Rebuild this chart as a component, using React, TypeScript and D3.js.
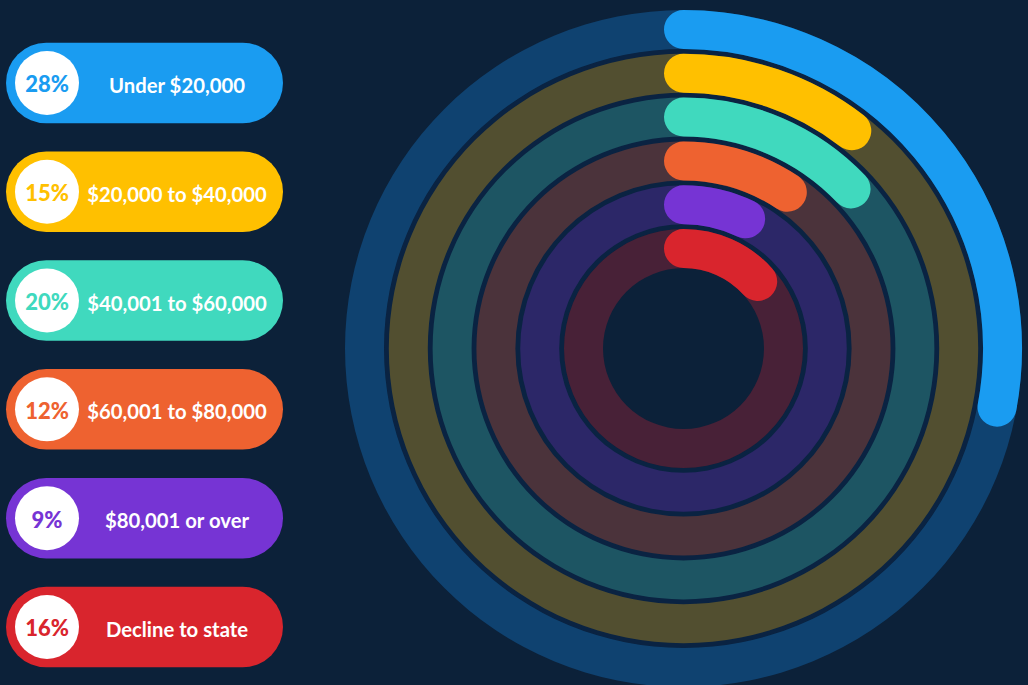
import React from "react";
import * as d3 from "d3";

// ---- data (outermost ring first) ----
const categories = [
  "Under $20,000",
  "$20,000 to $40,000",
  "$40,001 to $60,000",
  "$60,001 to $80,000",
  "$80,001 or over",
  "Decline to state",
];
const percentLabels = [28, 15, 20, 12, 9, 16];
// sweep of each drawn arc, in degrees, as it appears in the graphic
const arcSweepDeg = [100.6, 37.7, 46.4, 33.6, 25.6, 47.9];
const barColors = ["#1a9cf1", "#ffc000", "#40d9be", "#ee6230", "#7634d4", "#d9252d"];
const trackColors = ["#0f4270", "#524f30", "#1d5563", "#4b333b", "#2c2768", "#482137"];

const W = 1028;
const H = 685;
const BG = "#0c2139";
const SEP = "#0a2342";

export default function App() {
  const cx = 683.5;
  const cy = 348.5;
  const hole = 80.5;
  const step = 43.8;
  const band = 39;
  const n = categories.length;

  // ring index (0 = outermost) -> inner radius
  const rScale = d3.scaleLinear().domain([n - 1, 0]).range([hole, hole + step * (n - 1)]);
  const angle = d3.scaleLinear().domain([0, 360]).range([0, 2 * Math.PI]);
  const ringArc = d3.arc<any>();

  const sepPath = ringArc({
    innerRadius: rScale(n - 1) + band,
    outerRadius: rScale(0),
    startAngle: 0,
    endAngle: 2 * Math.PI,
  }) as string;

  const barPath = (i: number) => {
    const r = rScale(i) + band / 2;
    const p = d3.path();
    p.arc(0, 0, r, -Math.PI / 2, angle(arcSweepDeg[i]) - Math.PI / 2);
    return p.toString();
  };

  // legend
  const legendY = d3.scaleLinear().domain([0, n - 1]).range([42.7, 42.7 + 108.8 * 5]);
  const pillH = 80.5;
  const pillX = 6;
  const pillW = 277;

  return (
    <svg
      width={W}
      height={H}
      style={{ position: "absolute", left: 0, top: 0, display: "block" }}
      fontFamily="Lato, 'Open Sans', sans-serif"
    >
      <rect x={0} y={0} width={W} height={H} fill={BG} />
      <g transform={`translate(${cx},${cy})`}>
        <path d={sepPath} fill={SEP} />
        {categories.map((c, i) => (
          <path
            key={"t" + c}
            d={
              ringArc({
                innerRadius: rScale(i),
                outerRadius: rScale(i) + band,
                startAngle: 0,
                endAngle: 2 * Math.PI,
              }) as string
            }
            fill={trackColors[i]}
          />
        ))}
        {categories.map((c, i) => (
          <path
            key={"b" + c}
            d={barPath(i)}
            fill="none"
            stroke={barColors[i]}
            strokeWidth={band}
            strokeLinecap="round"
          />
        ))}
      </g>
      {categories.map((c, i) => {
        const y = legendY(i);
        const cyP = y + pillH / 2;
        return (
          <g key={"l" + c}>
            <rect x={pillX} y={y} width={pillW} height={pillH} rx={pillH / 2} fill={barColors[i]} />
            <circle cx={47} cy={cyP} r={32} fill="#ffffff" />
            <text
              x={47}
              y={cyP + 1}
              textAnchor="middle"
              dominantBaseline="central"
              fontSize={22}
              fontWeight={900}
              fill={barColors[i]}
            >
              {percentLabels[i]}%
            </text>
            <text
              x={177}
              y={cyP + 2}
              textAnchor="middle"
              dominantBaseline="central"
              fontSize={20.3}
              fontWeight={700}
              fill="#ffffff"
            >
              {c}
            </text>
          </g>
        );
      })}
    </svg>
  );
}
